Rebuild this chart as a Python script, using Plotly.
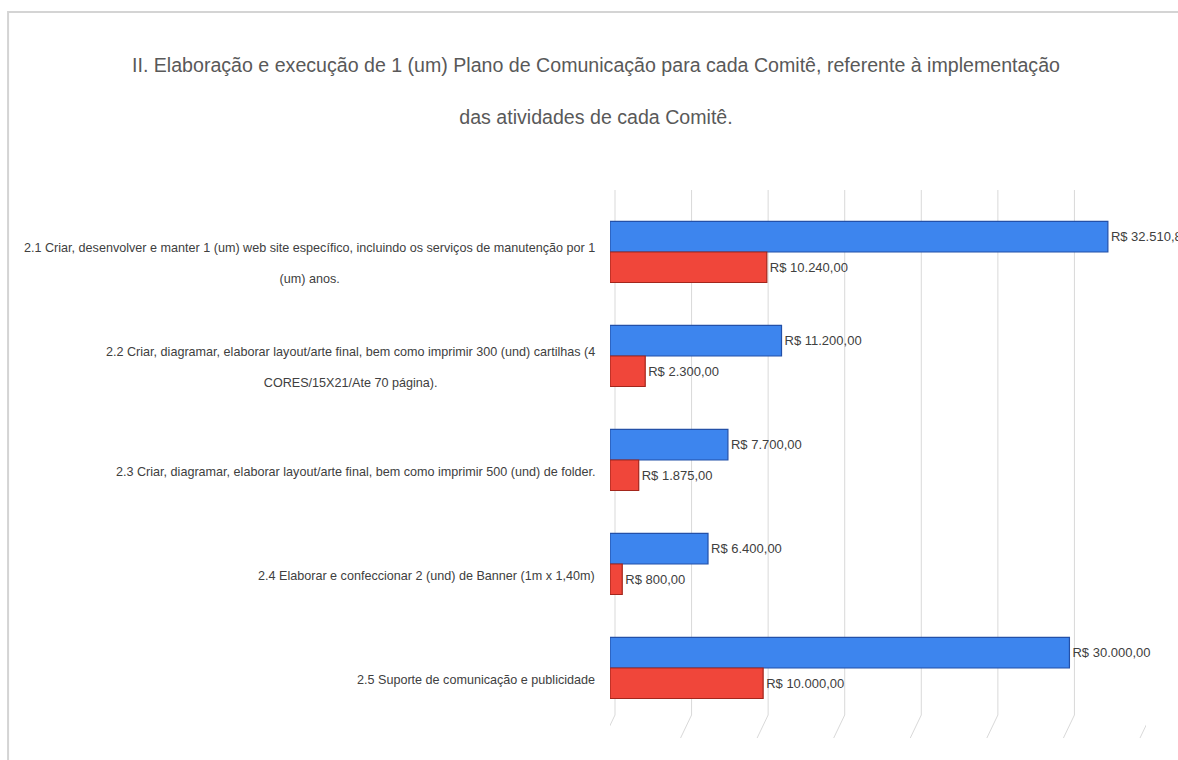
import plotly.graph_objects as go

# ---- data ----
categories = [
    "2.1 Criar, desenvolver e manter 1 (um) web site específico, incluindo os serviços de manutenção por 1<br>(um) anos.",
    "2.2 Criar, diagramar, elaborar layout/arte final, bem como imprimir 300 (und) cartilhas (4<br>CORES/15X21/Ate 70 página).",
    "2.3 Criar, diagramar, elaborar layout/arte final, bem como imprimir 500 (und) de folder.",
    "2.4 Elaborar e confeccionar 2 (und) de Banner (1m x 1,40m)",
    "2.5 Suporte de comunicação e publicidade",
]
serie_azul = [32510.82, 11200.00, 7700.00, 6400.00, 30000.00]
serie_vermelha = [10240.00, 2300.00, 1875.00, 800.00, 10000.00]
x_ticks = [0, 5000, 10000, 15000, 20000, 25000, 30000, 35000]
title_lines = [
    "II. Elaboração e execução de 1 (um) Plano de Comunicação para cada Comitê, referente à implementação",
    "das atividades de cada Comitê.",
]

FONT = "Liberation Sans, Arial, sans-serif"


def brl(v):
    s = f"{v:,.2f}".replace(",", "X").replace(".", ",").replace("X", ".")
    return "R$ " + s


fig = go.Figure()
fig.add_trace(go.Bar(
    y=categories, x=serie_azul, orientation="h", name="Série 1",
    marker=dict(color="#3d85ee", line=dict(color="#2350a8", width=1.2)),
    text=[brl(v) for v in serie_azul], textposition="outside",
    textfont=dict(family=FONT, size=13, color="#404040"),
    cliponaxis=False, constraintext="none", showlegend=False,
))
fig.add_trace(go.Bar(
    y=categories, x=serie_vermelha, orientation="h", name="Série 2",
    marker=dict(color="#f0463a", line=dict(color="#a3261c", width=1.2)),
    text=[brl(v) for v in serie_vermelha], textposition="outside",
    textfont=dict(family=FONT, size=13, color="#404040"),
    cliponaxis=False, constraintext="none", showlegend=False,
))

shapes = []
for v in x_ticks:
    shapes.append(dict(type="line", xref="x", xsizemode="pixel", xanchor=v, x0=5, x1=5,
                       yref="paper", y0=0, y1=1, line=dict(color="#d9d9d9", width=1), layer="below"))
    shapes.append(dict(type="line", xref="x", xsizemode="pixel", xanchor=v, x0=5, x1=-6,
                       yref="paper", ysizemode="pixel", yanchor=0, y0=0, y1=-23,
                       line=dict(color="#d9d9d9", width=1), layer="below"))
# outer chart frame
shapes.append(dict(type="rect", xref="paper", yref="paper", x0=-1.123, x1=1.2, y0=-0.3, y1=1.339,
                   line=dict(color="#d4d4d4", width=2), layer="below"))

annotations = []
for cat in categories:
    lines = cat.split("<br>")
    txt = "<br>".join(f"<span style='font-size:12.6px'>{ln}</span>" for ln in lines)
    annotations.append(dict(
        xref="paper", yref="y", x=0, y=cat, xanchor="right", yanchor="middle",
        xshift=-13, yshift=-12, text=txt, showarrow=False, align="center",
        font=dict(family=FONT, size=24, color="#404040"),
    ))
annotations.append(dict(
    xref="paper", yref="paper", x=-0.026, y=1.1886, xanchor="center", yanchor="middle",
    text="<br>".join(f"<span style='font-size:19.6px'>{ln}</span>" for ln in title_lines),
    showarrow=False, align="center",
    font=dict(family=FONT, size=40, color="#595959"),
))

fig.update_layout(
    width=1178, height=760,
    margin=dict(l=610, r=32, t=190, b=45),
    paper_bgcolor="white", plot_bgcolor="white",
    barmode="group", bargap=0.413, bargroupgap=0,
    xaxis=dict(range=[0, 35000], showgrid=False, zeroline=False, showticklabels=False,
               ticks="", showline=False),
    yaxis=dict(type="category", range=[4.452, -0.596], showgrid=False, zeroline=False,
               showticklabels=False, ticks="", showline=False),
    shapes=shapes, annotations=annotations,
)

fig.write_html("out.html", config={"displayModeBar": False},
               post_script="document.body.style.margin='0px';document.body.style.overflow='hidden';")
